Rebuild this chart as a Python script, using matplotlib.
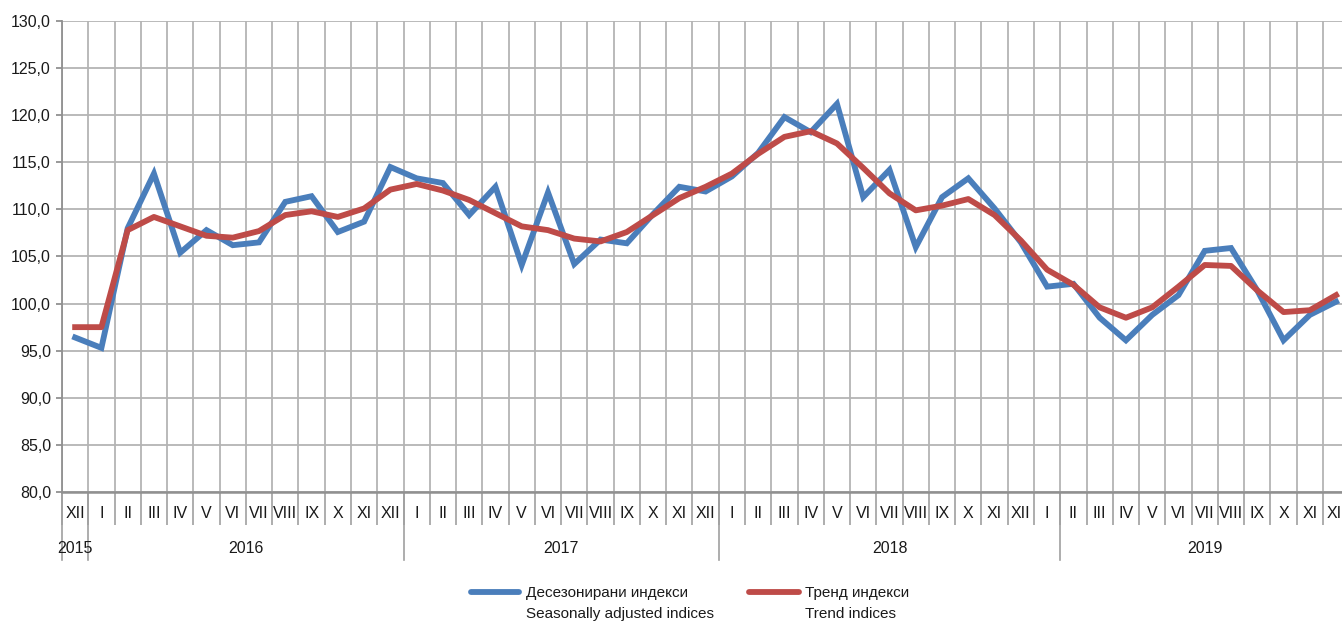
import matplotlib
matplotlib.use("Agg")
import matplotlib.pyplot as plt
from matplotlib.lines import Line2D
from matplotlib.ticker import FixedLocator, FuncFormatter
import numpy as np

plt.rcParams['font.family'] = ['Liberation Sans', 'DejaVu Sans']

months = ["XII",
          "I", "II", "III", "IV", "V", "VI", "VII", "VIII", "IX", "X", "XI", "XII",
          "I", "II", "III", "IV", "V", "VI", "VII", "VIII", "IX", "X", "XI", "XII",
          "I", "II", "III", "IV", "V", "VI", "VII", "VIII", "IX", "X", "XI", "XII",
          "I", "II", "III", "IV", "V", "VI", "VII", "VIII", "IX", "X", "XI", "XII"]

seasonal = [96.4, 95.3,
            108.0, 113.8, 105.4, 107.8, 106.2, 106.5, 110.8, 111.4, 107.6, 108.7, 114.5, 113.3,
            112.8, 109.4, 112.4, 104.1, 111.8, 104.2, 106.8, 106.4, 109.5, 112.4, 111.9, 113.5,
            116.0, 119.8, 118.2, 121.2, 111.3, 114.2, 106.0, 111.3, 113.3, 110.1, 106.5, 101.8,
            102.1, 98.5, 96.1, 98.8, 100.9, 105.6, 105.9, 101.4, 96.1, 98.8, 100.2]

trend = [97.5, 97.5,
         107.8, 109.2, 108.2, 107.2, 107.0, 107.7, 109.4, 109.8, 109.2, 110.1, 112.1, 112.7,
         112.0, 111.0, 109.6, 108.2, 107.8, 106.9, 106.6, 107.6, 109.4, 111.2, 112.4, 113.8,
         115.9, 117.7, 118.3, 117.0, 114.4, 111.7, 109.9, 110.4, 111.1, 109.4, 106.7, 103.6,
         102.0, 99.6, 98.5, 99.6, 101.8, 104.1, 104.0, 101.4, 99.1, 99.3, 100.9]

years = ["2015", "2016", "2017", "2018", "2019"]
year_bounds = [-0.5, 0.5, 12.5, 24.5, 37.5, 48.5]

label_seasonal = "Десезонирани индекси\nSeasonally adjusted indices"
label_trend = "Тренд индекси\nTrend indices"

BLUE = "#4A7EBB"
RED = "#BE4B48"

W, H = 1342, 621
fig = plt.figure(figsize=(W / 100, H / 100), dpi=100)
n = len(months)
cat_w = 26.27
ax = fig.add_axes([62 / W, (H - 492) / H, n * cat_w / W, 471 / H])

x = np.arange(n)
ax.plot(x, seasonal, color=BLUE, lw=4.2, solid_joinstyle="miter", zorder=3)
ax.plot(x, trend, color=RED, lw=4.2, solid_joinstyle="round", zorder=4)

ax.set_xlim(-0.5, n - 0.5)
ax.set_ylim(80, 130)
ax.yaxis.set_major_locator(FixedLocator(np.arange(80, 131, 5)))
ax.yaxis.set_major_formatter(FuncFormatter(lambda v, p: f"{v:.1f}".replace(".", ",")))

# x: boundaries as major ticks (grid + long tick marks), labels at centers via minor ticks
ax.set_xticks(np.arange(-0.5, n, 1))
ax.set_xticklabels([])
ax.set_xticks(x, minor=True)
ax.set_xticklabels(months, minor=True)
ax.tick_params(axis="x", which="major", length=24, width=1.2, color="#A0A0A0", direction="out")
ax.tick_params(axis="x", which="minor", length=0, pad=10, labelsize=11.5, colors="#1a1a1a")
ax.tick_params(axis="y", length=4, width=1.2, color="#888888", labelsize=11.5,
               labelcolor="#1a1a1a", pad=4)

ax.grid(True, which="major", color="#B4B4B4", lw=1.3)
ax.set_axisbelow(True)
for s in ["top", "right"]:
    ax.spines[s].set_visible(False)
ax.spines["left"].set_color("#909090")
ax.spines["bottom"].set_color("#909090")
ax.spines["left"].set_linewidth(1.3)
ax.spines["bottom"].set_linewidth(1.8)

# year separators and labels
tr = ax.get_xaxis_transform()
for b in year_bounds[:-1]:
    ax.plot([b, b], [0, -0.1444], transform=tr, color="#A0A0A0", lw=1.2, clip_on=False)
for i, yname in enumerate(years):
    cx = (year_bounds[i] + year_bounds[i + 1]) / 2
    ax.text(cx, -0.121, yname, transform=tr, ha="center", va="center", fontsize=11.5,
            color="#1a1a1a")

# legend (handle aligned with the first text line, as in the original)
def legend_entry(x0, x1, xt, color, label):
    yl = 1 - 592 / H
    fig.add_artist(Line2D([x0 / W, x1 / W], [yl, yl], transform=fig.transFigure,
                          color=color, lw=4.2, solid_capstyle="round"))
    fig.text(xt / W, 1 - 586 / H, label, ha="left", va="top", fontsize=11,
             color="#1a1a1a", linespacing=1.6)

legend_entry(471, 519, 526, BLUE, label_seasonal)
legend_entry(749, 799, 805, RED, label_trend)

fig.savefig("out.png", dpi=100)
